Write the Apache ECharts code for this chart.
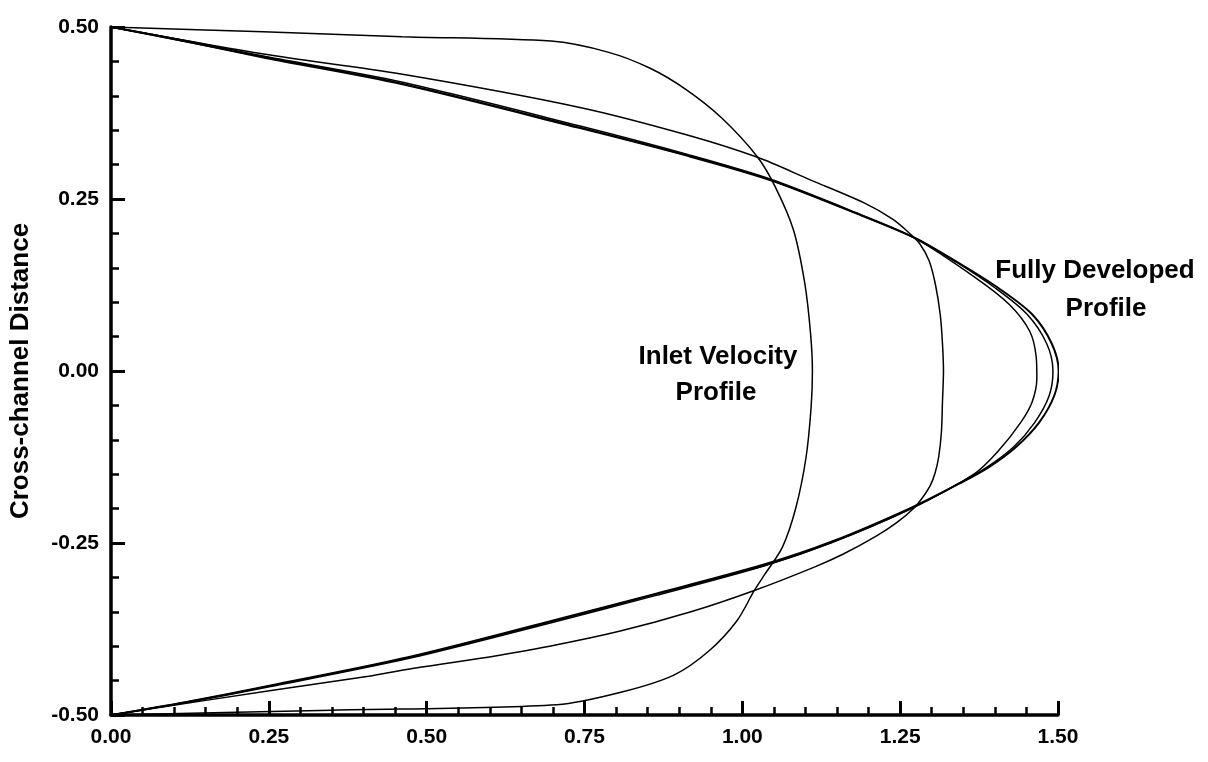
<!DOCTYPE html>
<html>
<head>
<meta charset="utf-8">
<script src="https://cdn.jsdelivr.net/npm/echarts@6/dist/echarts.min.js"></script>
<style>
  html, body { margin: 0; padding: 0; background: #fff; }
  #chart { width: 1208px; height: 762px; }
</style>
</head>
<body>
<div id="chart"></div>
<script>
// ---- Data (x = velocity, y = cross-channel distance) ----
const xTickLabels = ['0.00', '0.25', '0.50', '0.75', '1.00', '1.25', '1.50'];
const yTickLabels = ['-0.50', '-0.25', '0.00', '0.25', '0.50'];

const inletProfile = [
  [0, 0.5], [0.241, 0.493], [0.461, 0.486], [0.697, 0.4795], [0.787, 0.4635],
  [0.854, 0.44], [0.911, 0.409], [0.967, 0.368], [1.024, 0.311], [1.0525, 0.267],
  [1.081, 0.205], [1.099, 0.127], [1.108, 0.055], [1.111, 0.0], [1.109, -0.052],
  [1.101, -0.125], [1.085, -0.198], [1.0635, -0.256], [1.036, -0.295], [1.019, -0.319],
  [0.9915, -0.363], [0.947, -0.407], [0.8915, -0.442], [0.8076, -0.467], [0.7067, -0.485],
  [0.35, -0.493], [0, -0.5]
];

const developingProfile = [
  [0, 0.5], [0.2415, 0.4607], [0.4617, 0.4313], [0.7427, 0.3831], [0.9114, 0.3434],
  [1.024, 0.3106], [1.1085, 0.2775], [1.193, 0.2443], [1.238, 0.2206], [1.265, 0.2],
  [1.281, 0.185], [1.296, 0.16], [1.306, 0.125], [1.3136, 0.081], [1.317, 0.04],
  [1.3186, 0.0], [1.317, -0.045], [1.3153, -0.089], [1.311, -0.125], [1.3054, -0.148],
  [1.298, -0.166], [1.287, -0.182], [1.272, -0.199], [1.245, -0.22], [1.212, -0.24],
  [1.16, -0.266], [1.114, -0.285], [1.019, -0.319], [0.9185, -0.35], [0.8067, -0.378],
  [0.6947, -0.4], [0.5826, -0.418], [0.4706, -0.4335], [0.408, -0.4438], [0.251, -0.4646],
  [0, -0.5]
];

const nearlyDevelopedProfile = [
  [0, 0.5], [0.245, 0.456], [0.46, 0.418], [0.743, 0.354], [0.912, 0.3135],
  [1.044, 0.278], [1.19, 0.2255], [1.275, 0.192], [1.3707, 0.1347], [1.4233, 0.0963],
  [1.4552, 0.0578], [1.4655, 0.02], [1.4665, -0.01], [1.459, -0.045], [1.4408, -0.075],
  [1.4047, -0.117], [1.368, -0.149], [1.268, -0.1995], [1.142, -0.249], [1.0356, -0.2825],
  [0.862, -0.3245], [0.6943, -0.365], [0.4704, -0.4168], [0.2509, -0.458], [0.12, -0.481],
  [0, -0.5]
];

const fullyDevelopedA = [
  [0, 0.5], [0.12, 0.479], [0.245, 0.455], [0.46, 0.417], [0.743, 0.353],
  [0.912, 0.313], [1.044, 0.2775], [1.19, 0.2255], [1.275, 0.1925], [1.343, 0.157],
  [1.405, 0.121], [1.459, 0.0825], [1.49, 0.04], [1.501, 0.0], [1.494, -0.036],
  [1.47, -0.075], [1.434, -0.11], [1.39, -0.14], [1.345, -0.163], [1.268, -0.1985],
  [1.142, -0.2479], [1.0356, -0.281], [0.862, -0.324], [0.6943, -0.364], [0.4704, -0.416],
  [0.2509, -0.4574], [0.12, -0.481], [0, -0.5]
];

const fullyDevelopedB = [
  [0, 0.5], [0.12, 0.48], [0.245, 0.457], [0.46, 0.42], [0.743, 0.356],
  [0.912, 0.315], [1.044, 0.279], [1.19, 0.2265], [1.275, 0.193], [1.341, 0.157],
  [1.4, 0.121], [1.451, 0.0825], [1.482, 0.04], [1.492, 0.0], [1.486, -0.036],
  [1.463, -0.075], [1.43, -0.11], [1.387, -0.14], [1.343, -0.1635], [1.268, -0.2],
  [1.142, -0.2495], [1.0356, -0.283], [0.862, -0.3265], [0.6943, -0.3665], [0.4704, -0.418],
  [0.2509, -0.459], [0.12, -0.482], [0, -0.5]
];

const chart = echarts.init(document.getElementById('chart'), null, { renderer: 'canvas' });

const FONT = '"Liberation Sans", Arial, Helvetica, sans-serif';

function axisCommon() {
  return {
    type: 'value',
    splitLine: { show: false },
    axisLine: { show: true, onZero: false, lineStyle: { color: '#000', width: 3.5 } },
    axisTick: { show: true, inside: true, length: 14, lineStyle: { color: '#000', width: 3 } },
    minorTick: { show: true, splitNumber: 5, length: 8, lineStyle: { color: '#000', width: 2.5 } },
    minorSplitLine: { show: false },
    axisLabel: { color: '#000', fontSize: 21, fontWeight: 'bold', fontFamily: FONT }
  };
}

const xAxis = Object.assign(axisCommon(), {
  min: 0, max: 1.5, interval: 0.25
});
xAxis.axisLabel = Object.assign({}, xAxis.axisLabel, {
  margin: 12,
  formatter: function (v) { return xTickLabels[Math.round(v / 0.25)]; }
});

const yAxis = Object.assign(axisCommon(), {
  min: -0.5, max: 0.5, interval: 0.25,
  name: 'Cross-channel Distance',
  nameLocation: 'middle',
  nameGap: 77,
  nameTextStyle: { color: '#000', fontSize: 26, fontWeight: 'bold', fontFamily: FONT }
});
yAxis.axisLabel = Object.assign({}, yAxis.axisLabel, {
  margin: 12,
  formatter: function (v) { return yTickLabels[Math.round((v + 0.5) / 0.25)]; }
});

function curve(name, data, width) {
  return {
    name: name,
    type: 'line',
    data: data,
    showSymbol: false,
    smooth: 0.3,
    silent: true,
    animation: false,
    lineStyle: { color: '#000', width: width },
    z: 3
  };
}

const labelStyle = { fontSize: 26, fontWeight: 'bold', fontFamily: FONT, fill: '#000', align: 'center', verticalAlign: 'middle' };

chart.setOption({
  backgroundColor: '#fff',
  animation: false,
  grid: { left: 103, right: 150, top: 27, bottom: 47, containLabel: false },
  xAxis: xAxis,
  yAxis: yAxis,
  series: [
    curve('Inlet Velocity Profile', inletProfile, 1.5),
    curve('Developing', developingProfile, 1.5),
    curve('Nearly Developed', nearlyDevelopedProfile, 1.5),
    curve('Fully Developed A', fullyDevelopedA, 2),
    curve('Fully Developed B', fullyDevelopedB, 1.5)
  ],
  graphic: [
    { type: 'text', x: 1095, y: 271, style: Object.assign({ text: 'Fully Developed' }, labelStyle) },
    { type: 'text', x: 1106, y: 309, style: Object.assign({ text: 'Profile' }, labelStyle) },
    { type: 'text', x: 718, y: 357, style: Object.assign({ text: 'Inlet Velocity' }, labelStyle) },
    { type: 'text', x: 716, y: 393, style: Object.assign({ text: 'Profile' }, labelStyle) }
  ]
});
</script>
</body>
</html>
